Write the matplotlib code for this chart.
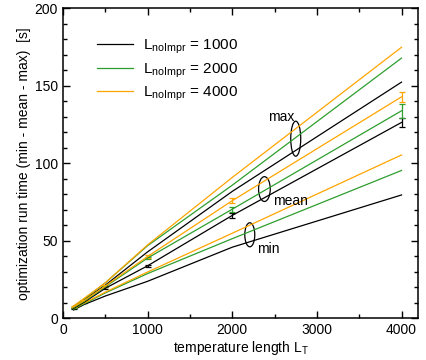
import numpy as np
import matplotlib
matplotlib.use('Agg')
import matplotlib.pyplot as plt
from matplotlib.patches import Ellipse
from matplotlib.lines import Line2D
from matplotlib.ticker import MultipleLocator

plt.rcParams['font.family'] = ['Liberation Sans', 'DejaVu Sans']
plt.rcParams['mathtext.fontset'] = 'custom'
plt.rcParams['mathtext.rm'] = 'Liberation Sans'
plt.rcParams['mathtext.it'] = 'Liberation Sans'

# длины температуры L_T
L_T = [125, 250, 500, 1000, 2000, 4000]

# L_noImpr = 1000
max_1000 = [7.5, 12, 21.5, 43, 82, 152.5]
mean_1000 = [6.5, 10.5, 19.5, 34, 66.5, 126.5]
err_1000 = [0.3, 0.4, 0.5, 0.8, 1.4, 3.0]
min_1000 = [5.5, 9, 14.5, 24, 46, 79.7]

# L_noImpr = 2000
max_2000 = [8, 12.5, 23, 47, 86, 168]
mean_2000 = [7, 11, 20.5, 39, 70.5, 134]
err_2000 = [0.3, 0.4, 0.5, 0.8, 1.6, 4.5]
min_2000 = [6, 9.5, 16.5, 29, 51.5, 95.5]

# L_noImpr = 4000
max_4000 = [8, 13, 23, 47.5, 91, 175]
mean_4000 = [7.5, 11.5, 21, 40, 76, 143]
err_4000 = [0.3, 0.4, 0.5, 0.8, 1.6, 3.3]
min_4000 = [6.5, 10, 17, 30, 55, 105.5]

labels = ['1000', '2000', '4000']
colors = ['black', '#2e9e2e', '#ffa500']

fig = plt.figure(figsize=(4.27, 3.6), dpi=100)
ax = fig.add_axes([0.1475, 0.1153, 0.8325, 0.8611])

series = [(max_1000, mean_1000, err_1000, min_1000),
          (max_2000, mean_2000, err_2000, min_2000),
          (max_4000, mean_4000, err_4000, min_4000)]

handles = []
for (mx, mn, er, mi), lab, c in zip(series, labels, colors):
    ax.plot(L_T, mx, color=c, lw=0.9)
    ax.plot(L_T, mi, color=c, lw=0.9)
    ax.errorbar(L_T, mn, yerr=er, color=c, lw=0.9, capsize=2.5, capthick=0.9)
    handles.append(Line2D([], [], color=c, lw=0.9,
                          label=r'$\mathregular{L_{noImpr}}$ = ' + lab))

# эллипсы с подписями
for (cx, cy, w, h), txt, tx, ty in [((2750, 116, 118, 22.6), 'max', 2420, 130),
                                    ((2380, 83.5, 138, 16), 'mean', 2480, 76),
                                    ((2207, 54, 118, 15.5), 'min', 2290, 45)]:
    ax.add_patch(Ellipse((cx, cy), w, h, fill=False, edgecolor='black', lw=0.9))
    ax.text(tx, ty, txt, fontsize=10, va='center', ha='left')

ax.set_xlim(0, 4200)
ax.set_ylim(0, 200)
ax.xaxis.set_major_locator(MultipleLocator(1000))
ax.xaxis.set_minor_locator(MultipleLocator(500))
ax.yaxis.set_major_locator(MultipleLocator(50))
ax.yaxis.set_minor_locator(MultipleLocator(10))
ax.tick_params(which='both', direction='in', top=True, right=True, labelsize=10, width=1)
ax.tick_params(which='major', length=5)
ax.tick_params(which='minor', length=3)
for s in ax.spines.values():
    s.set_linewidth(1.1)

ax.set_xlabel(r'temperature length $\mathregular{L_T}$', fontsize=10, labelpad=1)
ax.set_ylabel('optimization run time (min - mean - max)  [s]', fontsize=10, labelpad=3)

leg = ax.legend(handles=handles, loc='upper left', bbox_to_anchor=(0.097, 0.905),
                frameon=False, fontsize=11, borderpad=0, borderaxespad=0,
                handlelength=2.3, labelspacing=0.33, handletextpad=0.65)

plt.savefig('out.png', dpi=100)
